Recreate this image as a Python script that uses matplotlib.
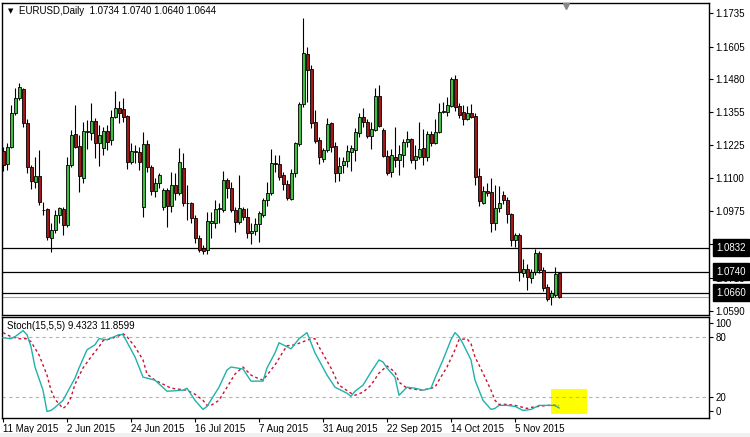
import numpy as np
import pandas as pd
import matplotlib
matplotlib.use('Agg')
import matplotlib.pyplot as plt
import matplotlib.transforms as mtransforms
from matplotlib.patches import Rectangle

plt.rcParams['font.family'] = ['Liberation Sans', 'DejaVu Sans']

# ---- data (EURUSD daily) ----
dates = pd.bdate_range('2015-05-11', periods=140)

opens = [1.1204, 1.1153, 1.1218, 1.1349, 1.1406, 1.1441, 1.1310, 1.1141, 1.1086, 1.1108,
         1.0978, 1.0980, 1.0868, 1.0900, 1.0958, 1.0980, 1.0919, 1.1150, 1.1269, 1.1223,
         1.1099, 1.1277, 1.1274, 1.1319, 1.1236, 1.1214, 1.1281, 1.1246, 1.1336, 1.1368,
         1.1364, 1.1338, 1.1163, 1.1200, 1.1201, 1.0987, 1.1231, 1.1141, 1.1051, 1.1082,
         1.0990, 1.1054, 1.0992, 1.1073, 1.1044, 1.1137, 1.1005, 1.1003, 1.0945, 1.0871,
         1.0830, 1.0823, 1.0928, 1.0926, 1.0980, 1.0977, 1.1092, 1.1060, 1.0977, 1.0930,
         1.0981, 1.0949, 1.0888, 1.0896, 1.0922, 1.0958, 1.1015, 1.1041, 1.1157, 1.1153,
         1.1112, 1.1076, 1.1019, 1.1118, 1.1229, 1.1383, 1.1575, 1.1519, 1.1314, 1.1246,
         1.1173, 1.1208, 1.1310, 1.1223, 1.1118, 1.1150, 1.1165, 1.1201, 1.1208, 1.1272,
         1.1336, 1.1316, 1.1261, 1.1284, 1.1415, 1.1284, 1.1185, 1.1124, 1.1182, 1.1169,
         1.1188, 1.1239, 1.1249, 1.1169, 1.1182, 1.1214, 1.1182, 1.1269, 1.1236, 1.1278,
         1.1355, 1.1355, 1.1377, 1.1479, 1.1377, 1.1355, 1.1326, 1.1349, 1.1338, 1.1108,
         1.1005, 1.1051, 1.1047, 1.0926, 1.0984, 1.1035, 1.1015, 1.0962, 1.0862, 1.0881,
         1.0734, 1.0749, 1.0715, 1.0740, 1.0811, 1.0747, 1.0682, 1.0642, 1.0650, 1.0734]
highs = [1.1219, 1.1233, 1.1380, 1.1445, 1.1464, 1.1445, 1.1326, 1.1150, 1.1182, 1.1208,
         1.1009, 1.0984, 1.0926, 1.0977, 1.0990, 1.0990, 1.1182, 1.1284, 1.1380, 1.1265,
         1.1316, 1.1323, 1.1387, 1.1329, 1.1304, 1.1297, 1.1304, 1.1361, 1.1434, 1.1397,
         1.1406, 1.1342, 1.1233, 1.1227, 1.1218, 1.1278, 1.1246, 1.1150, 1.1099, 1.1118,
         1.1060, 1.1060, 1.1124, 1.1118, 1.1214, 1.1195, 1.1073, 1.1009, 1.0958, 1.0881,
         1.0843, 1.0971, 1.0971, 1.1015, 1.1003, 1.1127, 1.1099, 1.1083, 1.0990, 1.1112,
         1.0990, 1.0984, 1.0926, 1.0945, 1.0973, 1.1024, 1.1086, 1.1210, 1.1188, 1.1188,
         1.1124, 1.1092, 1.1135, 1.1239, 1.1391, 1.1714, 1.1604, 1.1534, 1.1361, 1.1259,
         1.1216, 1.1329, 1.1314, 1.1239, 1.1182, 1.1182, 1.1227, 1.1227, 1.1291, 1.1349,
         1.1368, 1.1327, 1.1316, 1.1445, 1.1457, 1.1291, 1.1208, 1.1210, 1.1297, 1.1227,
         1.1249, 1.1282, 1.1252, 1.1227, 1.1316, 1.1287, 1.1282, 1.1282, 1.1326, 1.1389,
         1.1393, 1.1412, 1.1489, 1.1496, 1.1389, 1.1380, 1.1377, 1.1384, 1.1349, 1.1137,
         1.1069, 1.1080, 1.1099, 1.1073, 1.1069, 1.1051, 1.1028, 1.0967, 1.0890, 1.0890,
         1.0788, 1.0770, 1.0749, 1.0826, 1.0821, 1.0759, 1.0693, 1.0670, 1.0759, 1.0740]
lows = [1.1127, 1.1131, 1.1214, 1.1342, 1.1400, 1.1297, 1.1118, 1.1058, 1.1060, 1.0996,
        1.0958, 1.0862, 1.0817, 1.0888, 1.0926, 1.0881, 1.0913, 1.1143, 1.1214, 1.1045,
        1.1080, 1.1210, 1.1246, 1.1176, 1.1146, 1.1188, 1.1208, 1.1227, 1.1329, 1.1310,
        1.1316, 1.1133, 1.1154, 1.1156, 1.1131, 1.0951, 1.1124, 1.1035, 1.1026, 1.1060,
        1.0977, 1.0913, 1.0971, 1.1015, 1.1035, 1.0992, 1.0939, 1.0926, 1.0849, 1.0817,
        1.0807, 1.0807, 1.0868, 1.0907, 1.0926, 1.0968, 1.1022, 1.0968, 1.0891, 1.0922,
        1.0939, 1.0871, 1.0845, 1.0881, 1.0853, 1.0951, 1.0994, 1.1035, 1.1124, 1.1092,
        1.1054, 1.1015, 1.1015, 1.1105, 1.1224, 1.1374, 1.1393, 1.1291, 1.1233, 1.1153,
        1.1163, 1.1201, 1.1201, 1.1086, 1.1088, 1.1118, 1.1143, 1.1127, 1.1165, 1.1259,
        1.1297, 1.1252, 1.1210, 1.1282, 1.1297, 1.1179, 1.1112, 1.1103, 1.1141, 1.1112,
        1.1143, 1.1218, 1.1156, 1.1133, 1.1172, 1.1150, 1.1166, 1.1223, 1.1231, 1.1272,
        1.1349, 1.1338, 1.1372, 1.1359, 1.1329, 1.1304, 1.1323, 1.1329, 1.1073, 1.0992,
        1.1000, 1.1031, 1.0894, 1.0900, 1.0971, 1.1000, 1.0928, 1.0839, 1.0836, 1.0705,
        1.0719, 1.0670, 1.0698, 1.0727, 1.0734, 1.0667, 1.0629, 1.0612, 1.0642, 1.0640]
closes = [1.1150, 1.1218, 1.1349, 1.1406, 1.1448, 1.1312, 1.1143, 1.1090, 1.1108, 1.1009,
          1.0976, 1.0872, 1.0900, 1.0958, 1.0984, 1.0919, 1.1150, 1.1265, 1.1220, 1.1108,
          1.1281, 1.1279, 1.1319, 1.1236, 1.1265, 1.1281, 1.1239, 1.1336, 1.1368, 1.1349,
          1.1336, 1.1163, 1.1205, 1.1204, 1.1163, 1.1231, 1.1141, 1.1051, 1.1082, 1.1112,
          1.1054, 1.0992, 1.1073, 1.1044, 1.1163, 1.1003, 1.1003, 1.0945, 1.0871, 1.0823,
          1.0820, 1.0935, 1.0935, 1.0981, 1.0984, 1.1092, 1.1060, 1.0977, 1.0930, 1.0984,
          1.0949, 1.0888, 1.0896, 1.0922, 1.0964, 1.1015, 1.1041, 1.1156, 1.1153, 1.1105,
          1.1076, 1.1022, 1.1118, 1.1233, 1.1383, 1.1579, 1.1515, 1.1310, 1.1242, 1.1182,
          1.1208, 1.1306, 1.1220, 1.1118, 1.1147, 1.1165, 1.1204, 1.1216, 1.1278, 1.1336,
          1.1314, 1.1263, 1.1287, 1.1415, 1.1300, 1.1185, 1.1120, 1.1188, 1.1169, 1.1192,
          1.1239, 1.1249, 1.1169, 1.1185, 1.1210, 1.1182, 1.1269, 1.1236, 1.1278, 1.1355,
          1.1359, 1.1380, 1.1479, 1.1374, 1.1342, 1.1326, 1.1349, 1.1336, 1.1103, 1.1013,
          1.1051, 1.1044, 1.0926, 1.0984, 1.1005, 1.1015, 1.0962, 1.0862, 1.0881, 1.0740,
          1.0749, 1.0721, 1.0740, 1.0811, 1.0747, 1.0676, 1.0634, 1.0657, 1.0731, 1.0644]

# stochastic lines, read at their turning points (bar index, value)
k_idx = [0, 2, 3, 5, 6, 7, 8, 10, 11, 12, 13, 15, 18, 19, 21, 23, 24, 26, 29, 30,
         33, 35, 38, 41, 45, 46, 48, 50, 51, 54, 56, 57, 60, 62, 65, 66, 68, 69, 70, 72,
         74, 76, 78, 81, 83, 86, 87, 88, 90, 92, 94, 95, 96, 98, 99, 100, 101, 103, 105, 107,
         108, 110, 112, 113, 114, 115, 117, 118, 120, 122, 123, 124, 126, 128, 129, 130, 132, 133, 134, 136,
         138, 139]
k_val = [79, 78, 80, 86, 82, 70, 50, 27, 6, 7, 10, 17, 39, 49, 67, 72, 78, 77, 82, 82,
         60, 40, 37, 26, 27, 29, 17, 8, 11, 30, 47, 50, 48, 36, 36, 49, 64, 74, 72, 68,
         78, 84, 64, 42, 30, 24, 21, 26, 32, 45, 57, 55, 49, 40, 22, 26, 30, 29, 27, 29,
         39, 57, 77, 84, 80, 73, 57, 37, 17, 8, 9, 12, 12, 11, 9, 7, 8, 10, 12, 12,
         12, 9.4323]
d_idx = [0, 2, 4, 6, 7, 9, 11, 12, 13, 15, 16, 17, 18, 20, 22, 24, 25, 27, 29, 30,
         31, 33, 35, 36, 38, 40, 42, 44, 46, 48, 50, 51, 52, 54, 56, 58, 60, 62, 63, 65,
         66, 68, 70, 71, 73, 75, 77, 78, 79, 82, 84, 87, 88, 90, 92, 94, 96, 98, 99, 101,
         103, 104, 106, 108, 109, 111, 113, 114, 116, 117, 118, 120, 122, 123, 124, 126, 128, 129, 131, 132,
         134, 136, 138, 139]
d_val = [84, 80, 78, 78, 75, 62, 42, 27, 18, 9, 12, 20, 33, 49, 60, 70, 76, 78, 81, 83,
         80, 70, 57, 43, 37, 33, 29, 28, 27, 23, 17, 12, 12, 17, 30, 43, 50, 42, 40, 37,
         42, 52, 65, 71, 72, 75, 78, 78, 70, 49, 32, 24, 22, 25, 32, 44, 51, 45, 35, 29,
         28, 27, 28, 30, 37, 50, 67, 77, 78, 73, 60, 44, 27, 17, 13, 13, 12, 11, 9, 10,
         11, 12, 12, 11.8599]

levels = [1.0832, 1.0740, 1.0660]
bid = 1.0644
price_ticks = [1.1735, 1.1605, 1.1480, 1.1355, 1.1225, 1.1100, 1.0975, 1.0845, 1.0715, 1.0590]
stoch_ticks = [6.4, 20, 80, 93.6]
stoch_labels = ['0', '20', '80', '100']
date_step = 16
title = 'EURUSD,Daily  1.0734 1.0740 1.0640 1.0644'
stoch_title = 'Stoch(15,5,5) 9.4323 11.8599'

BULL = '#3fbf3f'
BEAR = '#a01818'

W, H = 750, 437
fig = plt.figure(figsize=(7.5, 4.37), dpi=100)
fig.patch.set_facecolor('white')
ax = fig.add_axes([2 / W, 1 - 315 / H, 707 / W, 312 / H])
ax2 = fig.add_axes([2 / W, 1 - 418 / H, 707 / W, 101 / H])

x = np.arange(len(opens))
o = np.array(opens); c = np.array(closes)
hi = np.array(highs); lo = np.array(lows)
up = c >= o
cols = np.where(up, BULL, BEAR)

# ---- candles ----
ax.vlines(x, lo, hi, color='black', lw=0.8, zorder=2)
ax.bar(x, np.abs(c - o), bottom=np.minimum(o, c), width=0.75, color=cols,
       edgecolor='black', linewidth=0.6, zorder=3)

for lev in levels:
    ax.axhline(lev, color='black', lw=0.9, zorder=1)
ax.axhline(bid, color='#a8a8a8', lw=0.8, zorder=1)

ax.set_xlim(-0.25, 176.5)
ax.set_ylim(1.05737, 1.17723)
ax.set_xticks([])
ax.yaxis.tick_right()
ax.set_yticks(price_ticks)
ax.set_yticklabels([f'{p:.4f}' for p in price_ticks])
ax.tick_params(axis='y', direction='out', length=3, width=0.8, pad=1.5, labelsize=7)
for s in ax.spines.values():
    s.set_color('black'); s.set_linewidth(1.0)

trans = mtransforms.blended_transform_factory(ax.transAxes, ax.transData)
ax.text(1.0099, bid, f'{bid:.4f}', transform=trans, ha='left', va='center',
        fontsize=7, color='black', zorder=9, clip_on=False)
for lev in levels:
    ax.text(1.0105, lev, f'{lev:.4f}', transform=trans, ha='left', va='center',
            fontsize=7, color='white', zorder=10, clip_on=False,
            bbox=dict(boxstyle='square,pad=0.35', fc='black', ec='black'))

ax.text(6 / 707, (315 - 11) / 312, '\u25bc', transform=ax.transAxes, fontsize=5,
        ha='left', va='center', family='DejaVu Sans')
ax.text(17 / 707, (315 - 11) / 312, title, transform=ax.transAxes, fontsize=7,
        ha='left', va='center')

tri = mtransforms.blended_transform_factory(ax.transData, ax.transAxes)
ax.plot([140.75], [(315 - 5.5) / 312], marker='v', color='#888888', markersize=5,
        transform=tri, clip_on=False, zorder=5)

# ---- stochastic ----
ax2.add_patch(Rectangle((137, 3.5), 9, 24.7, facecolor='#ffff00', edgecolor='none', zorder=1))
for lv in (20, 80):
    ax2.axhline(lv, color='#b4b4b4', lw=0.8, ls=(0, (3, 3)), zorder=1)
ax2.plot(d_idx, d_val, color='#cc1030', lw=1.0, ls=(0, (2, 2)), zorder=3)
ax2.plot(k_idx, k_val, color='#20b2aa', lw=1.0, zorder=4)

ax2.set_xlim(-0.25, 176.5)
ax2.set_ylim(-0.5, 99.5)
ax2.yaxis.tick_right()
ax2.set_yticks(stoch_ticks)
ax2.set_yticklabels(stoch_labels)
ax2.tick_params(axis='y', direction='out', length=3, width=0.8, pad=1.5, labelsize=7)

tick_pos = list(range(0, len(dates), date_step))
ax2.set_xticks(tick_pos)
ax2.set_xticklabels([f'{dates[i].day} {dates[i].strftime("%b %Y")}' for i in tick_pos],
                    ha='left')
ax2.tick_params(axis='x', direction='out', length=3, width=0.8, pad=1.5, labelsize=7)
for s in ax2.spines.values():
    s.set_color('black'); s.set_linewidth(1.0)

ax2.text(5 / 707, (418 - 326) / 101, stoch_title, transform=ax2.transAxes, fontsize=7,
         ha='left', va='center')

fig.patches.append(Rectangle((0, 0), 1, 4 / H, transform=fig.transFigure,
                             facecolor='#f0f0f0', edgecolor='none'))

fig.savefig('out.png', dpi=100, facecolor='white')
